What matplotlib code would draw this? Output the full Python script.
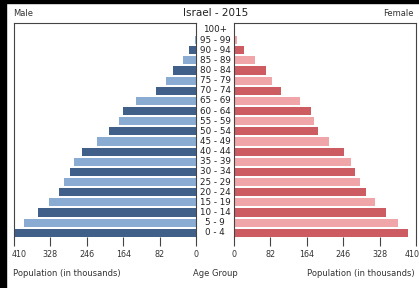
import matplotlib.pyplot as plt
from matplotlib.patches import Rectangle
from matplotlib.transforms import ScaledTranslation

age_groups = ["0 - 4", "5 - 9", "10 - 14", "15 - 19", "20 - 24", "25 - 29",
              "30 - 34", "35 - 39", "40 - 44", "45 - 49", "50 - 54", "55 - 59",
              "60 - 64", "65 - 69", "70 - 74", "75 - 79", "80 - 84", "85 - 89",
              "90 - 94", "95 - 99", "100+"]
male = [409, 387, 357, 331, 309, 297, 284, 275, 256, 224, 197, 174,
        164, 135, 90, 68, 52, 30, 15, 3, 1]
female = [391, 370, 342, 318, 297, 284, 273, 263, 247, 214, 189, 181,
          174, 149, 106, 86, 71, 47, 23, 6, 1]
ticks = [0, 82, 164, 246, 328, 410]

male_cols = ["#40608a" if i % 2 == 0 else "#8aacd2" for i in range(len(male))]
female_cols = ["#cc5c62" if i % 2 == 0 else "#f0a6a8" for i in range(len(female))]

W, H = 419, 288
fig = plt.figure(figsize=(W / 100, H / 100), dpi=100)
fig.patch.set_facecolor("white")
# dark border on left and top edges of the screenshot
fig.patches.append(Rectangle((0, 0), 6 / W, 1, transform=fig.transFigure,
                             color="black", zorder=0))
fig.patches.append(Rectangle((0, 1 - 3 / H), 1, 3 / H, transform=fig.transFigure,
                             color="black", zorder=0))

bottom = (H - 237) / H
height = 214 / H
axl = fig.add_axes([14 / W, bottom, 182 / W, height])
axr = fig.add_axes([234 / W, bottom, 182 / W, height])

y = list(range(len(age_groups)))
axl.barh(y, male, height=0.8, color=male_cols)
axr.barh(y, female, height=0.8, color=female_cols)

for ax in (axl, axr):
    ax.set_ylim(-0.42, 20.69)
    ax.set_xlim(0, 410)
    ax.set_xticks(ticks)
    ax.set_xticklabels([str(t) for t in ticks], fontsize=5.8, color="#333333")
    ax.set_yticks([])
    ax.spines["bottom"].set_visible(False)
    for s in ("left", "right", "top"):
        ax.spines[s].set_color("#444444")
        ax.spines[s].set_linewidth(0.8)
    ax.tick_params(axis="x", direction="out", length=6.5, width=0.8,
                   color="#444444", pad=3)
axl.invert_xaxis()

# outer 410 labels sit a little inside the canvas
lab = axl.get_xticklabels()[-1]
lab.set_transform(lab.get_transform() + ScaledTranslation(5 / 100, 0, fig.dpi_scale_trans))
lab = axr.get_xticklabels()[-1]
lab.set_transform(lab.get_transform() + ScaledTranslation(-4 / 100, 0, fig.dpi_scale_trans))

for i, g in enumerate(age_groups):
    yy = axl.transData.transform((0, i))[1]
    fig.text(215 / W, yy / fig.bbox.height, g, ha="center", va="center",
             fontsize=6.3, color="#222222")

fig.text(215.5 / W, 1 - 13 / H, "Israel - 2015", ha="center", va="center",
         fontsize=7.5, color="#222222")
fig.text(13 / W, 1 - 14 / H, "Male", ha="left", va="center", fontsize=6,
         color="#333333")
fig.text(414 / W, 1 - 14 / H, "Female", ha="right", va="center", fontsize=6,
         color="#333333")
fig.text(13 / W, 1 - 273 / H, "Population (in thousands)", ha="left",
         va="center", fontsize=6, color="#333333")
fig.text(215 / W, 1 - 273 / H, "Age Group", ha="center", va="center",
         fontsize=6, color="#333333")
fig.text(415 / W, 1 - 273 / H, "Population (in thousands)", ha="right",
         va="center", fontsize=6, color="#333333")

fig.savefig("out.png", dpi=100)
